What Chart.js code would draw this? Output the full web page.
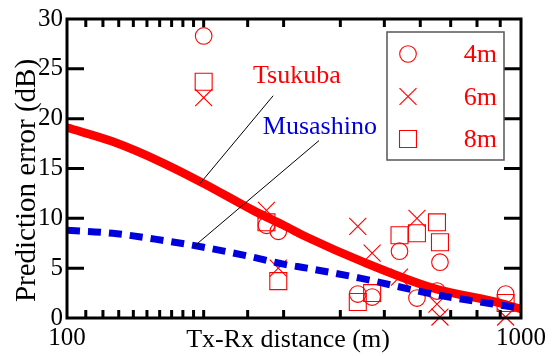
<!DOCTYPE html>
<html><head><meta charset="utf-8">
<script src="https://cdn.jsdelivr.net/npm/chart.js@4/dist/chart.umd.min.js"></script>
<style>html,body{margin:0;padding:0;background:#fff;}canvas{display:block;}</style>
</head><body>
<canvas id="c" width="553" height="356"></canvas>
<script>
// Measured prediction errors per antenna height (Tx-Rx distance in m, error in dB)
const distances = [200, 275, 292, 437, 470, 540, 590, 653, 663, 925];
const err4m = [28.3, 9.3, 8.7, 2.4, 2.1, 6.7, 2.0, 2.7, 5.6, 2.4];
const err6m = [22.1, 10.8, 5.0, 9.2, 6.5, 4.1, 10.0, 1.4, 0.1, 0.1];
const err8m = [23.7, 9.6, 3.7, 1.6, 2.5, 8.3, 8.5, 9.6, 7.6, 1.5];

// Model curves for the two sites
const tsukubaX = [100, 126, 162, 200, 257, 300, 338, 450, 640, 900, 1000];
const tsukubaY = [19.1, 17.7, 15.6, 13.5, 10.8, 9.3, 8.1, 5.6, 3.0, 1.5, 0.9];
const musashinoX = [100, 126, 162, 200, 257, 300, 338, 442, 640, 900, 1000];
const musashinoY = [8.8, 8.5, 7.8, 7.1, 6.1, 5.4, 5.0, 4.0, 2.4, 1.3, 1.0];

// Axis tick labels
const xTickLabels = [100, 1000];
const yTickStep = 5;

const RED = '#ff0000';
const BLUE = '#0000dd';
const SERIF = '"Liberation Serif", "Times New Roman", serif';

const pts = (xs, ys) => xs.map((v, i) => ({x: v, y: ys[i]}));

// Site labels with leader lines, anchored in data units
const siteNotes = [
  {text: 'Tsukuba', color: RED, at: [256.8, 23.6], from: [284.5, 22.3], to: [196.4, 13.5]},
  {text: 'Musashino', color: BLUE, at: [270, 18.5], from: [359, 17.8], to: [189.5, 7.1]}
];

function markerSet(label, data, style, radius) {
  return {
    type: 'scatter', label, data, order: 3, clip: false,
    pointStyle: style, pointRadius: radius, pointHoverRadius: radius,
    pointBorderColor: RED, pointBackgroundColor: 'rgba(0,0,0,0)', pointBorderWidth: 1.1,
    showLine: false
  };
}

const framePlugin = {
  id: 'frame',
  afterDatasetsDraw(chart) {
    const {ctx, chartArea: a, scales: {x, y}} = chart;
    ctx.save();
    // frame and inward ticks
    ctx.strokeStyle = '#000';
    ctx.lineWidth = 3;
    ctx.strokeRect(a.left, a.top, a.right - a.left, a.bottom - a.top);
    ctx.beginPath();
    x.ticks.forEach(t => {
      const px = x.getPixelForValue(t.value);
      if (px <= a.left + 1 || px >= a.right - 1) return;
      ctx.moveTo(px, a.bottom); ctx.lineTo(px, a.bottom - 8);
      ctx.moveTo(px, a.top); ctx.lineTo(px, a.top + 8);
    });
    y.ticks.forEach(t => {
      const py = y.getPixelForValue(t.value);
      if (py >= a.bottom - 1 || py <= a.top + 1) return;
      ctx.moveTo(a.left, py); ctx.lineTo(a.left + 17, py);
      ctx.moveTo(a.right, py); ctx.lineTo(a.right - 17, py);
    });
    ctx.stroke();

    // axis titles
    ctx.fillStyle = '#000';
    ctx.font = '26px ' + SERIF;
    ctx.textAlign = 'center';
    ctx.textBaseline = 'alphabetic';
    ctx.fillText('Tx-Rx distance (m)', (a.left + a.right) / 2 - 6, 347);
    ctx.save();
    ctx.font = '29px ' + SERIF;
    ctx.translate(35, (a.top + a.bottom) / 2 + 12);
    ctx.rotate(-Math.PI / 2);
    ctx.fillText('Prediction error (dB)', 0, 0);
    ctx.restore();

    // site labels and leader lines
    ctx.lineWidth = 1;
    ctx.strokeStyle = '#000';
    siteNotes.forEach(n => {
      ctx.beginPath();
      ctx.moveTo(x.getPixelForValue(n.from[0]), y.getPixelForValue(n.from[1]));
      ctx.lineTo(x.getPixelForValue(n.to[0]), y.getPixelForValue(n.to[1]));
      ctx.stroke();
      ctx.fillStyle = n.color;
      ctx.textAlign = 'left';
      ctx.fillText(n.text, x.getPixelForValue(n.at[0]), y.getPixelForValue(n.at[1]));
    });

    // legend box
    const bw = 117, bh = 128;
    const bx = a.right - 17 - bw, by = a.top + 13;
    ctx.fillStyle = '#fff';
    ctx.fillRect(bx, by, bw, bh);
    ctx.strokeStyle = '#555';
    ctx.lineWidth = 1.5;
    ctx.strokeRect(bx, by, bw, bh);
    const entries = chart.data.datasets.filter(d => d.type === 'scatter');
    entries.forEach((d, i) => {
      const cy = by + 22 + i * 42.5;
      ctx.strokeStyle = RED;
      ctx.fillStyle = 'rgba(0,0,0,0)';
      ctx.lineWidth = 1.1;
      Chart.helpers.drawPoint(ctx, {pointStyle: d.pointStyle, radius: d.pointRadius, rotation: 0, borderWidth: 1.1}, bx + 21, cy);
      ctx.fillStyle = RED;
      ctx.textAlign = 'right';
      ctx.textBaseline = 'alphabetic';
      ctx.fillText(d.label, bx + bw - 7, cy + 8);
    });
    ctx.restore();
  }
};

new Chart(document.getElementById('c'), {
  data: {
    datasets: [
      {
        type: 'line', label: 'Musashino', data: pts(musashinoX, musashinoY), order: 1,
        borderColor: BLUE, borderWidth: 7, borderDash: [13, 8], pointRadius: 0,
        cubicInterpolationMode: 'monotone', fill: false
      },
      {
        type: 'line', label: 'Tsukuba', data: pts(tsukubaX, tsukubaY), order: 2,
        borderColor: RED, borderWidth: 8.5, pointRadius: 0,
        cubicInterpolationMode: 'monotone', fill: false
      },
      markerSet('4m', pts(distances, err4m), 'circle', 8.3),
      markerSet('6m', pts(distances, err6m), 'crossRot', 12),
      markerSet('8m', pts(distances, err8m), 'rect', 12)
    ]
  },
  options: {
    responsive: false,
    animation: false,
    events: [],
    layout: {padding: {left: 0, top: 17, right: 32, bottom: 0}},
    plugins: {legend: {display: false}, tooltip: {enabled: false}},
    scales: {
      x: {
        type: 'logarithmic', min: 100, max: 1000,
        grid: {display: false, drawTicks: false}, border: {display: false},
        afterFit: s => { s.height = 38; },
        ticks: {
          autoSkip: false, maxRotation: 0, padding: 5, color: '#000',
          font: {family: SERIF, size: 25},
          callback: v => xTickLabels.includes(v) ? String(v) : ''
        }
      },
      y: {
        min: 0, max: 30,
        grid: {display: false, drawTicks: false}, border: {display: false},
        afterFit: s => { s.width = 67; },
        ticks: {stepSize: yTickStep, padding: 4, color: '#000', font: {family: SERIF, size: 25}}
      }
    }
  },
  plugins: [framePlugin]
});
</script>
</body></html>
